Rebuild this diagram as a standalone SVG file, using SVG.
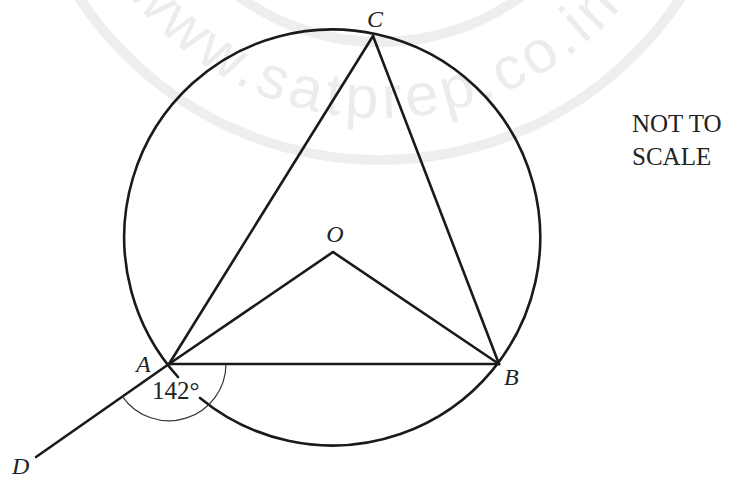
<svg xmlns="http://www.w3.org/2000/svg" width="732" height="478" viewBox="0 0 732 478">
<style>
.ln{stroke:#1a1a1a;stroke-width:2.6;fill:none;stroke-linecap:round}
.thin{stroke:#333;stroke-width:1.2;fill:none}
.lbl{font-family:"Liberation Serif","Times New Roman",serif;font-style:italic;font-size:24px;fill:#222}
.txt{font-family:"Liberation Serif","Times New Roman",serif;font-size:25px;fill:#222}
.wm{fill:none;stroke:#eeeeee;stroke-width:10}
.wmt{font-family:"Liberation Sans",Arial,sans-serif;font-size:60px;letter-spacing:5px;fill:#ececec}
</style>
<defs>
<path id="wmpath" d="M126,-8.6 A318,318 0 0 0 693.2,-144.8"/>
</defs>
<rect width="732" height="478" fill="#fff"/>
<g id="watermark">
<circle class="wm" cx="380" cy="-200" r="242"/>
<circle class="wm" cx="380" cy="-200" r="360"/>
<text class="wmt"><textPath href="#wmpath">www.satprep.co.in</textPath></text>
</g>
<g id="circle">
<path class="ln" d="M200,398 A208,208 0 1 0 178,377"/>
</g>
<g id="connectors">
<line class="ln" x1="169" y1="364" x2="373" y2="36"/>
<line class="ln" x1="373" y1="36" x2="499" y2="364"/>
<line class="ln" x1="169" y1="364" x2="333" y2="252"/>
<line class="ln" x1="333" y1="252" x2="499" y2="364"/>
<line class="ln" x1="169" y1="364" x2="499" y2="364"/>
<line class="ln" x1="169" y1="364" x2="36" y2="457"/>
<path class="thin" d="M122.4,396.6 A57,57 0 0 0 226,364"/>
</g>
<g id="node-C"><text class="lbl" x="375" y="27" text-anchor="middle">C</text></g>
<g id="node-O"><text class="lbl" x="335" y="242" text-anchor="middle">O</text></g>
<g id="node-A"><text class="lbl" x="136" y="372">A</text></g>
<g id="node-B"><text class="lbl" x="504" y="385">B</text></g>
<g id="node-D"><text class="lbl" x="12" y="474">D</text></g>
<g id="angle-label"><text class="txt" x="152" y="399" font-size="24">142°</text></g>
<g id="note">
<text class="txt" x="632" y="132">NOT TO</text>
<text class="txt" x="632" y="165">SCALE</text>
</g>
</svg>
